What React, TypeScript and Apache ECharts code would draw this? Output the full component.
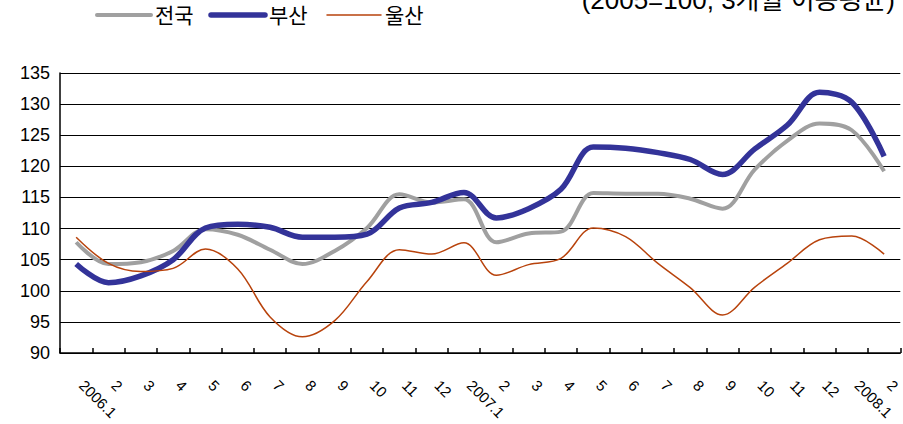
import React, { useEffect, useRef } from "react";
import * as echarts from "echarts";

const categories = [
  "2006.1", "2", "3", "4", "5", "6", "7", "8", "9", "10", "11", "12",
  "2007.1", "2", "3", "4", "5", "6", "7", "8", "9", "10", "11", "12",
  "2008.1", "2",
];

const nationValues = [
  107.8, 104.3, 104.6, 106.4, 109.9, 109.0, 106.6, 104.3, 106.4, 110.1, 115.5, 114.2,
  114.7, 107.8, 109.2, 109.5, 115.7, 115.6, 115.6, 114.8, 113.2, 119.5, 124.1, 126.9,
  125.8, 119.2,
];

const busanValues = [
  104.3, 101.3, 102.4, 105.0, 110.1, 110.7, 110.2, 108.6, 108.6, 109.1, 113.3, 114.2,
  115.8, 111.7, 113.2, 116.3, 123.1, 122.9, 122.2, 121.1, 118.7, 122.8, 126.6, 131.9,
  130.3, 121.6,
];

const ulsanValues = [
  108.6, 104.4, 103.1, 103.6, 106.7, 103.5, 95.8, 92.6, 95.2, 101.5, 106.6, 105.9,
  107.7, 102.5, 104.2, 105.2, 110.1, 108.7, 104.4, 100.5, 96.1, 100.6, 104.4, 108.2,
  108.8, 105.9,
];

const seriesNames = ["전국", "부산", "울산"];
const yTicks = { min: 90, max: 135, interval: 5 };
const noteText = "(2005=100, 3개월 이동평균)";

const FONT = "'Liberation Sans', Arial, 'Noto Sans CJK KR', sans-serif";
const KFONT = "'Liberation Sans', 'Noto Sans CJK KR', sans-serif";
const COLORS = ["#a0a0a0", "#333399", "#b8430c"];
const WIDTHS = [4, 5.5, 1.5];

export default function App() {
  const ref = useRef<HTMLDivElement>(null);

  useEffect(() => {
    if (!ref.current) return;
    const chart = echarts.init(ref.current, undefined, { renderer: "svg" });
    const data = [nationValues, busanValues, ulsanValues];

    const legendX = [97, 211, 327];
    const legendGraphics: any[] = [];
    seriesNames.forEach((name, i) => {
      legendGraphics.push({
        type: "line",
        shape: { x1: legendX[i], y1: 15, x2: legendX[i] + 54, y2: 15 },
        style: { stroke: COLORS[i], lineWidth: WIDTHS[i], lineCap: "round" },
      });
      legendGraphics.push({
        type: "text",
        x: legendX[i] + 58,
        y: 15,
        style: {
          text: name,
          fill: "#000",
          font: `21px ${KFONT}`,
          textVerticalAlign: "middle",
          textAlign: "left",
        },
      });
    });

    chart.setOption({
      animation: false,
      backgroundColor: "#fff",
      grid: { left: 60, top: 73, width: 846, bottom: 71, containLabel: false },
      graphic: [
        ...legendGraphics,
        {
          type: "text",
          x: 895,
          y: 0,
          style: {
            text: noteText,
            fill: "#000",
            font: `26px ${KFONT}`,
            textAlign: "right",
            textVerticalAlign: "middle",
          },
        },
      ],
      xAxis: {
        type: "category",
        data: categories,
        boundaryGap: true,
        axisLine: { show: true, lineStyle: { color: "#000", width: 1.5 } },
        axisTick: { show: true, inside: true, length: 5, lineStyle: { color: "#000", width: 1.5 } },
        axisLabel: {
          interval: 0,
          rotate: -45,
          margin: 24,
          padding: [0, 0, 0, 8],
          color: "#000",
          fontSize: 15,
          fontFamily: FONT,
        },
        splitLine: { show: false },
      },
      yAxis: {
        type: "value",
        min: yTicks.min,
        max: yTicks.max,
        interval: yTicks.interval,
        axisLine: { show: true, lineStyle: { color: "#000", width: 1.5 } },
        axisTick: { show: false },
        axisLabel: { color: "#000", fontSize: 18, fontFamily: FONT, margin: 10 },
        splitLine: { show: true, lineStyle: { color: "#000", width: 1.2 } },
      },
      series: seriesNames.map((name, i) => ({
        name,
        type: "line",
        data: data[i],
        smooth: 0.35,
        symbol: "none",
        showSymbol: false,
        lineStyle: { color: COLORS[i], width: WIDTHS[i] },
        itemStyle: { color: COLORS[i] },
        z: 2 + i,
      })),
    });

    return () => chart.dispose();
  }, []);

  return (
    <div
      ref={ref}
      style={{ position: "fixed", left: 0, top: 0, width: 903, height: 424 }}
    />
  );
}
